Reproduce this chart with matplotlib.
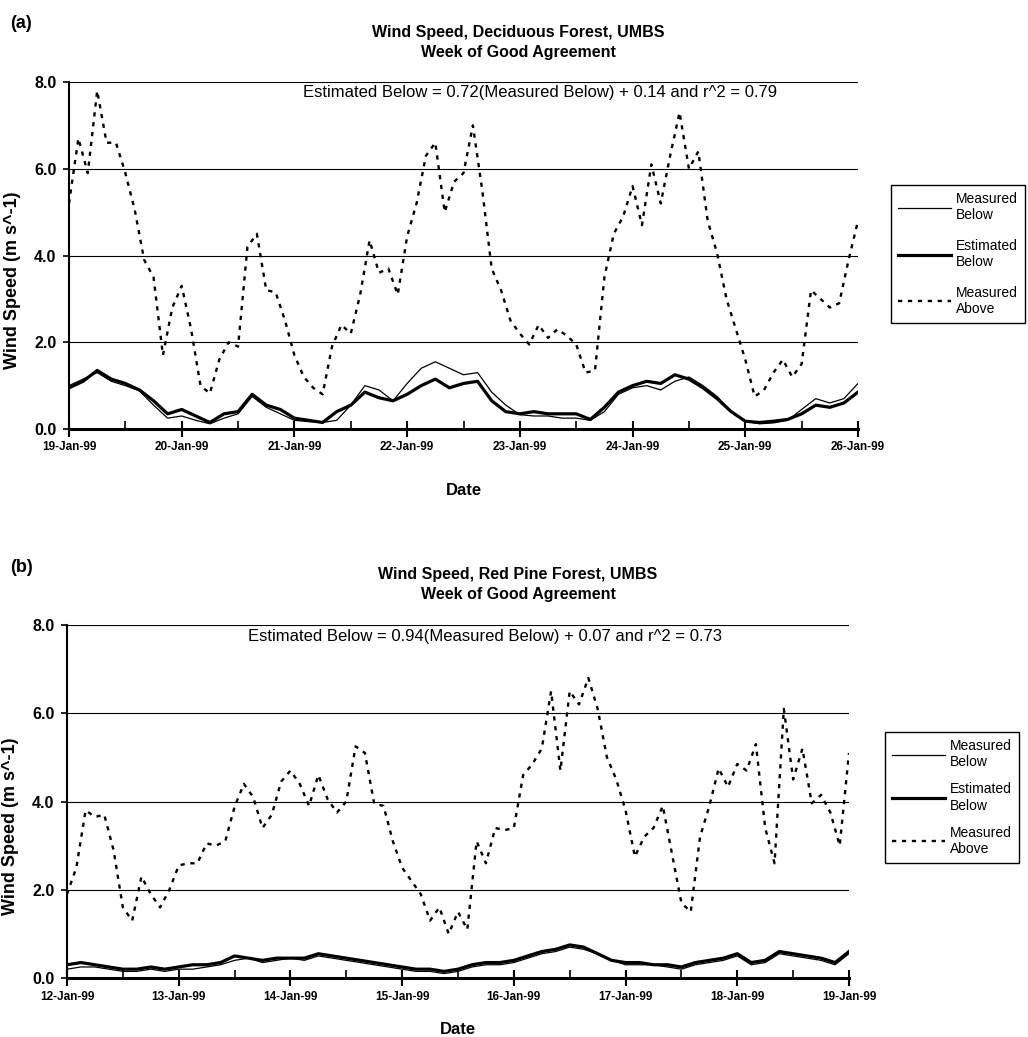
import numpy as np
import pandas as pd
import matplotlib
matplotlib.use("Agg")
import matplotlib.pyplot as plt
import matplotlib.dates as mdates

plt.rcParams["font.family"] = ["Liberation Sans", "DejaVu Sans"]

W, H = 1028, 1037

# panel (a): deciduous forest, 19-Jan-99 .. 26-Jan-99
START_A = "1999-01-19"
# measured above canopy, every 2 h
ABOVE_A = [5.2, 6.7, 5.9, 7.8, 6.6, 6.6, 5.9, 5.05, 3.9, 3.5,
           1.7, 2.8, 3.3, 2.3, 1.0, 0.82, 1.6, 2.0, 1.9, 4.2,
           4.5, 3.2, 3.15, 2.5, 1.7, 1.2, 0.95, 0.8, 1.9, 2.4,
           2.2, 3.1, 4.35, 3.6, 3.7, 3.1, 4.44, 5.2, 6.3, 6.6,
           5.0, 5.7, 5.9, 7.0, 5.5, 3.7, 3.2, 2.5, 2.2, 1.95,
           2.4, 2.1, 2.3, 2.15, 1.95, 1.3, 1.35, 3.5, 4.5, 4.9,
           5.6, 4.7, 6.1, 5.2, 6.3, 7.3, 6.0, 6.4, 4.8, 4.05,
           3.0, 2.3, 1.6, 0.75, 0.9, 1.3, 1.6, 1.2, 1.5, 3.2,
           3.0, 2.8, 2.9, 3.9, 4.8]
# measured / estimated below canopy, every 3 h
MEAS_A = [1.0, 1.15, 1.3, 1.1, 1.0, 0.88, 0.55, 0.25, 0.3, 0.2,
          0.12, 0.25, 0.35, 0.75, 0.5, 0.35, 0.2, 0.17, 0.15, 0.2,
          0.55, 1.0, 0.9, 0.65, 1.05, 1.4, 1.55, 1.4, 1.25, 1.3,
          0.85, 0.55, 0.33, 0.3, 0.3, 0.25, 0.25, 0.2, 0.4, 0.8,
          0.95, 1.0, 0.9, 1.1, 1.2, 1.0, 0.75, 0.4, 0.18, 0.12,
          0.14, 0.2, 0.45, 0.7, 0.6, 0.7, 1.05]
EST_A = [0.95, 1.1, 1.35, 1.15, 1.05, 0.9, 0.65, 0.35, 0.45, 0.3,
         0.15, 0.35, 0.4, 0.8, 0.55, 0.45, 0.25, 0.2, 0.15, 0.4,
         0.55, 0.85, 0.72, 0.65, 0.8, 1.0, 1.15, 0.95, 1.05, 1.1,
         0.65, 0.4, 0.35, 0.4, 0.35, 0.35, 0.35, 0.22, 0.5, 0.85,
         1.0, 1.1, 1.05, 1.25, 1.15, 0.95, 0.7, 0.4, 0.18, 0.15,
         0.18, 0.22, 0.35, 0.55, 0.5, 0.6, 0.85]

# panel (b): red pine forest, 12-Jan-99 .. 19-Jan-99
START_B = "1999-01-12"
ABOVE_B = [1.9, 2.5, 3.8, 3.65, 3.7, 2.9, 1.6, 1.3, 2.3, 1.9,
           1.6, 2.0, 2.55, 2.6, 2.6, 3.05, 3.0, 3.1, 3.88, 4.4,
           4.1, 3.4, 3.7, 4.45, 4.7, 4.4, 3.9, 4.6, 4.05, 3.75,
           4.0, 5.25, 5.1, 3.95, 3.9, 3.1, 2.5, 2.2, 1.9, 1.3,
           1.6, 1.0, 1.5, 1.1, 3.1, 2.6, 3.4, 3.35, 3.4, 4.6,
           4.85, 5.2, 6.5, 4.7, 6.5, 6.2, 6.8, 6.1, 5.0, 4.5,
           3.8, 2.75, 3.2, 3.4, 3.9, 2.8, 1.7, 1.5, 3.2, 3.9,
           4.75, 4.33, 4.85, 4.7, 5.3, 3.4, 2.6, 6.1, 4.5, 5.2,
           3.96, 4.15, 3.75, 3.0, 5.1]
MEAS_B = [0.2, 0.25, 0.25, 0.2, 0.15, 0.15, 0.2, 0.15, 0.2, 0.2,
          0.25, 0.3, 0.4, 0.45, 0.35, 0.4, 0.45, 0.4, 0.5, 0.45,
          0.4, 0.35, 0.3, 0.25, 0.2, 0.15, 0.15, 0.1, 0.15, 0.25,
          0.3, 0.3, 0.35, 0.45, 0.55, 0.6, 0.7, 0.65, 0.55, 0.4,
          0.3, 0.3, 0.3, 0.25, 0.2, 0.3, 0.35, 0.4, 0.5, 0.3,
          0.35, 0.55, 0.5, 0.45, 0.4, 0.3, 0.55]
EST_B = [0.3, 0.35, 0.3, 0.25, 0.2, 0.2, 0.25, 0.2, 0.25, 0.3,
         0.3, 0.35, 0.5, 0.45, 0.4, 0.45, 0.45, 0.45, 0.55, 0.5,
         0.45, 0.4, 0.35, 0.3, 0.25, 0.2, 0.2, 0.15, 0.2, 0.3,
         0.35, 0.35, 0.4, 0.5, 0.6, 0.65, 0.75, 0.7, 0.55, 0.4,
         0.35, 0.35, 0.3, 0.3, 0.25, 0.35, 0.4, 0.45, 0.55, 0.35,
         0.4, 0.6, 0.55, 0.5, 0.45, 0.35, 0.6]

SERIES_LABELS = ["Measured\nBelow", "Estimated\nBelow", "Measured\nAbove"]
Y_TICKS = [0, 2, 4, 6, 8]
TITLE_A = ["Wind Speed, Deciduous Forest, UMBS", "Week of Good Agreement"]
TITLE_B = ["Wind Speed, Red Pine Forest, UMBS", "Week of Good Agreement"]
EQ_A = "Estimated Below = 0.72(Measured Below) + 0.14 and r^2 = 0.79"
EQ_B = "Estimated Below = 0.94(Measured Below) + 0.07 and r^2 = 0.73"


def fx(px):
    return px / W


def fy(px):
    return 1 - px / H


def draw_panel(ax, start, above, meas, est, date_pad):
    t_above = pd.date_range(start, periods=len(above), freq="2h")
    t_below = pd.date_range(start, periods=len(meas), freq="3h")

    l1, = ax.plot(t_below, meas, color="black", lw=0.9)
    l2, = ax.plot(t_below, est, color="black", lw=2.3)
    l3, = ax.plot(t_above, above, color="black", lw=1.7, linestyle=(0, (1.8, 2.4)))

    ax.set_xlim(t_above[0], t_above[-1])
    ax.set_ylim(0, 8)
    ax.set_yticks(Y_TICKS)
    ax.yaxis.set_major_formatter(plt.FormatStrFormatter("%.1f"))
    ax.yaxis.grid(True, color="black", lw=0.8)
    ax.set_axisbelow(True)

    ax.xaxis.set_major_locator(mdates.DayLocator())
    ax.xaxis.set_major_formatter(mdates.DateFormatter("%d-%b-%y"))
    ax.xaxis.set_minor_locator(mdates.HourLocator(byhour=12))

    ax.spines["top"].set_visible(False)
    ax.spines["right"].set_visible(False)
    ax.spines["bottom"].set_linewidth(2.2)
    ax.spines["left"].set_linewidth(1.5)

    ax.tick_params(axis="y", direction="out", length=4, width=1.2, labelsize=11.5, pad=5)
    ax.tick_params(axis="x", which="major", direction="inout", length=12, width=1.5,
                   labelsize=8.5, pad=3)
    ax.tick_params(axis="x", which="minor", direction="in", length=6, width=1.2)
    for lab in ax.get_xticklabels() + ax.get_yticklabels():
        lab.set_fontweight("bold")

    ax.set_ylabel("Wind Speed (m s^-1)", fontsize=13, fontweight="bold")
    ax.yaxis.set_label_coords(-0.061, 0.43)
    ax.set_xlabel("Date", fontsize=12, fontweight="bold")
    ax.xaxis.set_label_coords(0.5, date_pad)
    return [l1, l2, l3]


fig = plt.figure(figsize=(W / 100, H / 100), dpi=100)

ax_a = fig.add_axes([fx(69), fy(429), fx(858 - 69), (429 - 82) / H])
ax_b = fig.add_axes([fx(67), fy(978), fx(849 - 67), (978 - 625) / H])

handles_a = draw_panel(ax_a, START_A, ABOVE_A, MEAS_A, EST_A, -0.155)
handles_b = draw_panel(ax_b, START_B, ABOVE_B, MEAS_B, EST_B, -0.125)

# panel letters, titles and regression text
for letter, title, eq, y0, eq_x, eq_y in [
    ("(a)", TITLE_A, EQ_A, 0, 540, 92),
    ("(b)", TITLE_B, EQ_B, 543, 485, 636),
]:
    fig.text(fx(10), fy(24 + y0), letter, fontsize=13, fontweight="bold", va="center")
    fig.text(fx(518), fy(32 + y0), title[0], fontsize=11.5, fontweight="bold",
             ha="center", va="center")
    fig.text(fx(518), fy(52 + y0), title[1], fontsize=11.5, fontweight="bold",
             ha="center", va="center")
    fig.text(fx(eq_x), fy(eq_y), eq, fontsize=12, ha="center", va="center")

for ax, handles, lx, ly, spacing in [(ax_a, handles_a, 891, 185, 1.2),
                                     (ax_b, handles_b, 885, 732, 0.95)]:
    leg = ax.legend(handles, SERIES_LABELS, loc="upper left",
                    bbox_to_anchor=(fx(lx), fy(ly)), bbox_transform=fig.transFigure,
                    borderaxespad=0, fancybox=False, edgecolor="black", framealpha=1,
                    fontsize=10, handlelength=3.8, handletextpad=0.4,
                    labelspacing=spacing, borderpad=0.5)
    leg.get_frame().set_linewidth(1.0)

fig.savefig("out.png", dpi=100)
